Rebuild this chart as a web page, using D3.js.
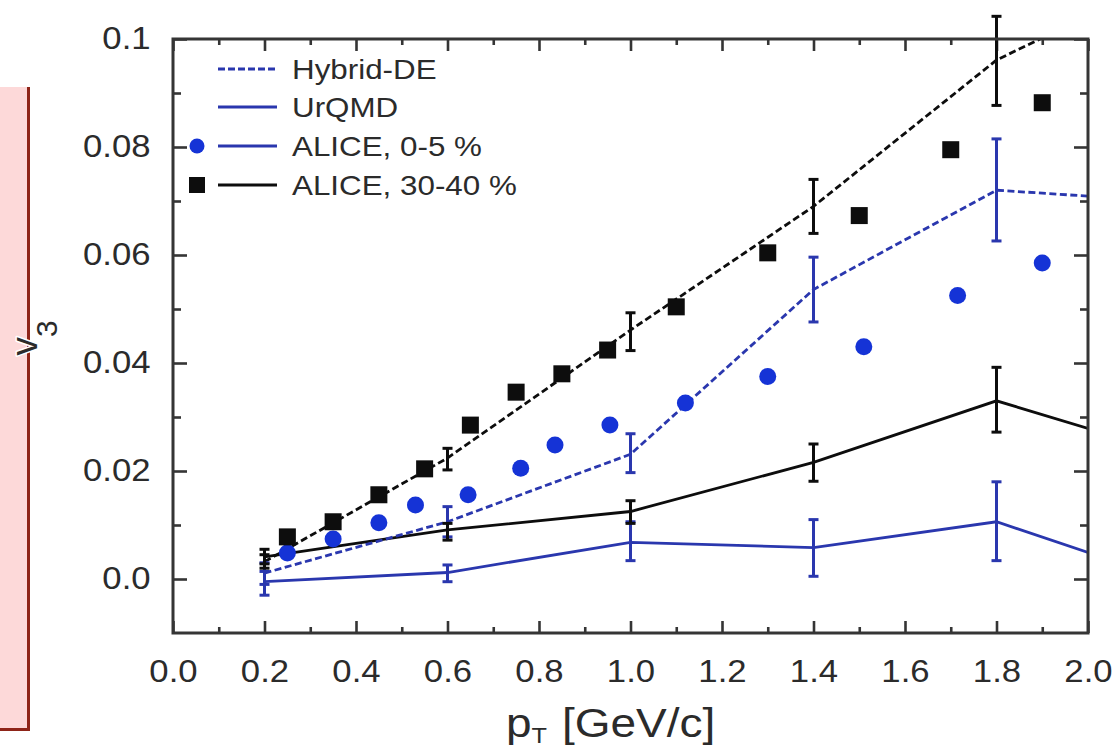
<!DOCTYPE html>
<html>
<head>
<meta charset="utf-8">
<script src="https://cdn.jsdelivr.net/npm/d3@7"></script>
<style>
  html, body { margin: 0; padding: 0; background: #fff; }
  svg { display: block; font-family: "Liberation Sans", Arial, Helvetica, sans-serif; }
</style>
</head>
<body>
<svg id="chart" width="1119" height="748"></svg>
<script>
// Transverse momentum grid of the model curves
const pTModel = [0.2, 0.6, 1.0, 1.4, 1.8, 2.0];
const pTErr = [0.2, 0.6, 1.0, 1.4, 1.8];

// Hybrid-DE and UrQMD v3 for the two centrality classes
const hybrid3040 = [0.0032, 0.0224, 0.0461, 0.0690, 0.0961, 0.1043];
const hybrid0005 = [0.0011, 0.0106, 0.0231, 0.0536, 0.0720, 0.0709];
const urqmd3040 = [0.0041, 0.0091, 0.0125, 0.0216, 0.0330, 0.0279];
const urqmd0005 = [-0.0005, 0.0012, 0.0068, 0.0058, 0.0106, 0.0049];

// Statistical error bands (lower, upper) of the model points
const hybrid3040Lo = [0.0020, 0.0202, 0.0423, 0.0640, 0.0877];
const hybrid3040Hi = [0.0045, 0.0242, 0.0493, 0.0740, 0.1042];
const urqmd3040Lo = [0.0028, 0.0072, 0.0103, 0.0181, 0.0272];
const urqmd3040Hi = [0.0055, 0.0103, 0.0145, 0.0250, 0.0392];
const hybrid0005Lo = [-0.0010, 0.0078, 0.0197, 0.0476, 0.0626];
const hybrid0005Hi = [0.0030, 0.0134, 0.0269, 0.0596, 0.0815];
const urqmd0005Lo = [-0.0030, -0.0005, 0.0034, 0.0005, 0.0034];
const urqmd0005Hi = [0.0014, 0.0026, 0.0106, 0.0110, 0.0180];

// ALICE measurements
const aliceCentralPT = [0.25, 0.35, 0.45, 0.53, 0.645, 0.76, 0.835, 0.955, 1.12, 1.30, 1.51, 1.715, 1.90];
const aliceCentralV3 = [0.0048, 0.0074, 0.0104, 0.0137, 0.0156, 0.0205, 0.0248, 0.0285, 0.0326, 0.0375, 0.0430, 0.0525, 0.0585];
const alicePeriphPT = [0.25, 0.35, 0.45, 0.55, 0.65, 0.75, 0.85, 0.95, 1.1, 1.3, 1.5, 1.7, 1.9];
const alicePeriphV3 = [0.0078, 0.0106, 0.0156, 0.0204, 0.0285, 0.0346, 0.0380, 0.0424, 0.0504, 0.0604, 0.0673, 0.0795, 0.0882];

// Axis ticks
const xTicks = [0.0, 0.2, 0.4, 0.6, 0.8, 1.0, 1.2, 1.4, 1.6, 1.8, 2.0];
const xTickLabels = ["0.0", "0.2", "0.4", "0.6", "0.8", "1.0", "1.2", "1.4", "1.6", "1.8", "2.0"];
const xMinor = [0.1, 0.3, 0.5, 0.7, 0.9, 1.1, 1.3, 1.5, 1.7, 1.9];
const yTicks = [0.0, 0.02, 0.04, 0.06, 0.08, 0.1];
const yTickLabels = ["0.0", "0.02", "0.04", "0.06", "0.08", "0.1"];
const yMinor = [0.01, 0.03, 0.05, 0.07, 0.09];

// Legend entries
const legendLabels = ["Hybrid-DE", "UrQMD", "ALICE, 0-5 %", "ALICE, 30-40 %"];

const BLUE_MARK = "#1533d6";
const BLUE_LINE = "#2a37ae";
const BLACK = "#0d0d0d";
const FRAME = "#353535";
const TEXT = "#2b2b2b";
const STRETCH = 1.12;

const svg = d3.select("#chart");
const plotL = 173, plotR = 1088, plotT = 39, plotB = 633;

const x = d3.scaleLinear().domain([0, 2.0]).range([plotL, plotR]);
const y = d3.scaleLinear().domain([-0.01, 0.1]).range([plotB, plotT]);

// Side panel
svg.append("rect").attr("x", -4).attr("y", 87).attr("width", 33).attr("height", 643)
  .attr("fill", "#fdd9d9");
svg.append("line").attr("x1", 28.5).attr("x2", 28.5).attr("y1", 87).attr("y2", 730)
  .attr("stroke", "#8e2418").attr("stroke-width", 3);
svg.append("line").attr("x1", -2).attr("x2", 30).attr("y1", 729.5).attr("y2", 729.5)
  .attr("stroke", "#8e2418").attr("stroke-width", 3);

svg.append("clipPath").attr("id", "plotClip")
  .append("rect").attr("x", plotL).attr("y", plotT).attr("width", plotR - plotL).attr("height", plotB - plotT);

// Axes: inward ticks on all four sides
function styleAxis(g) {
  g.select(".domain").remove();
  g.selectAll(".tick line").attr("stroke", FRAME).attr("stroke-width", 2.6);
}
const fmtX = d => xTickLabels[xTicks.indexOf(d)];
const fmtY = d => yTickLabels[yTicks.indexOf(d)];

const gB = svg.append("g").attr("transform", `translate(0,${plotB})`)
  .call(d3.axisBottom(x).tickValues(xTicks).tickFormat(fmtX).tickSize(-12).tickPadding(27));
styleAxis(gB);
gB.selectAll(".tick text").attr("font-size", 31).attr("fill", TEXT)
  .attr("font-family", "Liberation Sans, Arial, sans-serif")
  .attr("transform", `scale(${STRETCH},1)`);

svg.append("g").attr("transform", `translate(0,${plotB})`)
  .call(d3.axisBottom(x).tickValues(xMinor).tickFormat("").tickSize(-6)).call(styleAxis);
svg.append("g").attr("transform", `translate(0,${plotT})`)
  .call(d3.axisTop(x).tickValues(xTicks).tickFormat("").tickSize(-12)).call(styleAxis);
svg.append("g").attr("transform", `translate(0,${plotT})`)
  .call(d3.axisTop(x).tickValues(xMinor).tickFormat("").tickSize(-6)).call(styleAxis);

const gL = svg.append("g").attr("transform", `translate(${plotL},0)`)
  .call(d3.axisLeft(y).tickValues(yTicks).tickFormat(fmtY).tickSize(-14).tickPadding(20));
styleAxis(gL);
gL.selectAll(".tick text").attr("font-size", 31).attr("fill", TEXT)
  .attr("font-family", "Liberation Sans, Arial, sans-serif")
  .attr("transform", `scale(${STRETCH},1)`);

svg.append("g").attr("transform", `translate(${plotL},0)`)
  .call(d3.axisLeft(y).tickValues(yMinor).tickFormat("").tickSize(-8)).call(styleAxis);
svg.append("g").attr("transform", `translate(${plotR},0)`)
  .call(d3.axisRight(y).tickValues(yTicks).tickFormat("").tickSize(-14)).call(styleAxis);
svg.append("g").attr("transform", `translate(${plotR},0)`)
  .call(d3.axisRight(y).tickValues(yMinor).tickFormat("").tickSize(-8)).call(styleAxis);

// Model curves
const line = d3.line().x(d => x(d[0])).y(d => y(d[1]));
const curves = [
  { v: urqmd0005, color: BLUE_LINE, dash: null },
  { v: urqmd3040, color: BLACK, dash: null },
  { v: hybrid0005, color: BLUE_LINE, dash: "7,3.5" },
  { v: hybrid3040, color: BLACK, dash: "7,3.5" }
];
const gCurves = svg.append("g").attr("clip-path", "url(#plotClip)");
curves.forEach(c => {
  gCurves.append("path")
    .datum(pTModel.map((p, i) => [p, c.v[i]]))
    .attr("d", line)
    .attr("fill", "none")
    .attr("stroke", c.color)
    .attr("stroke-width", 2.8)
    .attr("stroke-dasharray", c.dash);
});

// Error bars
const errSets = [
  { lo: urqmd0005Lo, hi: urqmd0005Hi, color: BLUE_LINE },
  { lo: hybrid0005Lo, hi: hybrid0005Hi, color: BLUE_LINE },
  { lo: urqmd3040Lo, hi: urqmd3040Hi, color: BLACK },
  { lo: hybrid3040Lo, hi: hybrid3040Hi, color: BLACK }
];
const capHalf = 5;
errSets.forEach(s => {
  const g = svg.append("g").attr("stroke", s.color).attr("stroke-width", 3);
  const data = pTErr.map((p, i) => ({ p, lo: s.lo[i], hi: s.hi[i] }));
  g.selectAll("line.v").data(data).join("line").attr("class", "v")
    .attr("x1", d => x(d.p)).attr("x2", d => x(d.p))
    .attr("y1", d => y(d.lo)).attr("y2", d => y(d.hi));
  g.selectAll("line.t").data(data).join("line").attr("class", "t")
    .attr("x1", d => x(d.p) - capHalf).attr("x2", d => x(d.p) + capHalf)
    .attr("y1", d => y(d.hi)).attr("y2", d => y(d.hi));
  g.selectAll("line.b").data(data).join("line").attr("class", "b")
    .attr("x1", d => x(d.p) - capHalf).attr("x2", d => x(d.p) + capHalf)
    .attr("y1", d => y(d.lo)).attr("y2", d => y(d.lo));
});

// ALICE data points
svg.append("g").selectAll("circle")
  .data(aliceCentralPT.map((p, i) => [p, aliceCentralV3[i]]))
  .join("circle")
  .attr("cx", d => x(d[0])).attr("cy", d => y(d[1])).attr("r", 8.5)
  .attr("fill", BLUE_MARK);

const sq = 17;
svg.append("g").selectAll("rect")
  .data(alicePeriphPT.map((p, i) => [p, alicePeriphV3[i]]))
  .join("rect")
  .attr("x", d => x(d[0]) - sq / 2).attr("y", d => y(d[1]) - sq / 2)
  .attr("width", sq).attr("height", sq)
  .attr("fill", BLACK);

// Frame
svg.append("rect").attr("x", plotL).attr("y", plotT).attr("width", plotR - plotL).attr("height", plotB - plotT)
  .attr("fill", "none").attr("stroke", FRAME).attr("stroke-width", 3);

// Legend
const legRows = [69, 107, 146, 185];
const legStyles = [
  { color: BLUE_LINE, dash: "7,3", marker: null },
  { color: BLUE_LINE, dash: null, marker: null },
  { color: BLUE_LINE, dash: null, marker: "circle" },
  { color: BLACK, dash: null, marker: "square" }
];
const gLeg = svg.append("g");
legendLabels.forEach((lab, i) => {
  const yy = legRows[i], st = legStyles[i];
  gLeg.append("line").attr("x1", 218).attr("x2", 277).attr("y1", yy).attr("y2", yy)
    .attr("stroke", st.color).attr("stroke-width", 3.2).attr("stroke-dasharray", st.dash);
  if (st.marker === "circle") {
    gLeg.append("circle").attr("cx", 197).attr("cy", yy).attr("r", 7.5).attr("fill", BLUE_MARK);
  } else if (st.marker === "square") {
    gLeg.append("rect").attr("x", 189).attr("y", yy - 8).attr("width", 16).attr("height", 16).attr("fill", BLACK);
  }
  gLeg.append("text")
    .attr("transform", `translate(292,${yy + 10}) scale(${STRETCH},1)`)
    .attr("font-size", 28).attr("fill", TEXT)
    .text(lab);
});

// Axis titles
const xt = svg.append("text")
  .attr("transform", `translate(506,737) scale(1.15,1)`)
  .attr("font-size", 40).attr("fill", TEXT);
xt.append("tspan").text("p");
xt.append("tspan").attr("font-size", 22).attr("dy", 6).text("T");
xt.append("tspan").attr("dy", -6).attr("dx", 13).text("[GeV/c]");

const yt = svg.append("text")
  .attr("transform", "translate(37,338) rotate(-90)")
  .attr("text-anchor", "middle")
  .attr("font-size", 37).attr("fill", TEXT)
  .attr("stroke", "#fff").attr("stroke-width", 3).attr("paint-order", "stroke")
  .attr("stroke-linejoin", "round");
yt.append("tspan").text("v");
yt.append("tspan").attr("font-size", 30).attr("dy", 20).text("3");
</script>
</body>
</html>
